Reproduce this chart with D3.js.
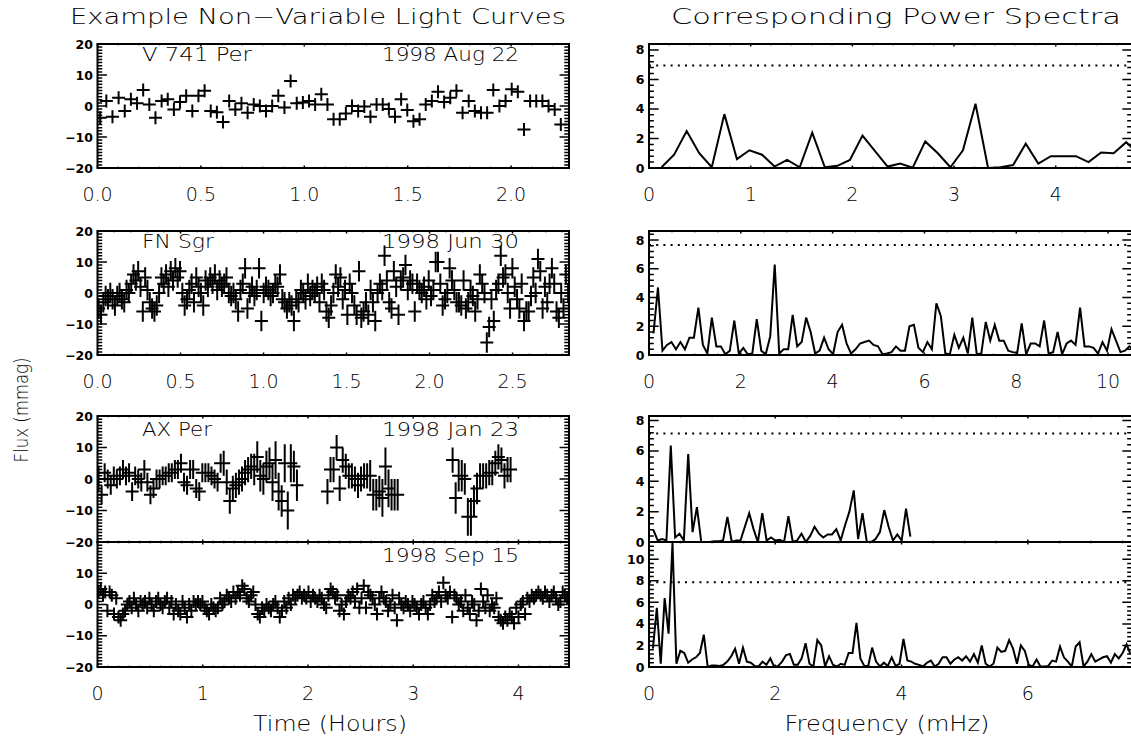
<!DOCTYPE html>
<html>
<head>
<meta charset="utf-8">
<script src="https://cdn.jsdelivr.net/npm/d3@7"></script>
<style>
  body { margin: 0; background: #fff; }
  svg { display: block; }
  text { font-family: "DejaVu Sans", sans-serif; fill: #000; font-weight: 200; }
</style>
</head>
<body>
<script>
// ---- light curves (mmag), evenly sampled from a start time (hours) ----
const v741Start = 0.013, v741Step = 0.0297;
const v741Flux = [-3.8, 1.6, -3.5, 2.7, -1.6, 2.2, 0.9, 5.2, 0.5, -3.8,
  1.6, 2.2, -1.1, 1.3, 3.3, -1.6, 3.3, 4.9, -1.6, -2.0,
  -5.2, 1.6, -1.1, 0.9, -2.2, 0.5, 0.0, -1.6, 0.0, 3.3,
  -0.5, 8.1, 0.9, 1.1, 1.6, 0.5, 3.8, 0.5, -4.3, -4.3,
  -2.4, 0.0, -1.6, -0.2, -3.5, 0.5, 0.5, -1.0, -3.5, 2.2,
  -1.3, -4.9, -4.3, 0.5, 1.6, 4.6, 1.3, 2.7, 4.9, -2.2,
  1.6, -1.6, -2.2, -2.2, 5.2, 0.0, 1.6, 5.4, 4.6, -7.6,
  1.6, 1.6, 1.6, 0.0, -1.1, -6.0];
const v741Err = 1.5;

const fnStart = 0.007, fnStep = 0.014;
const fnFlux = [-5, -7, -3, -1, -2, 0, -2, -4, -1, 0, -2, -3, 1, 0,
  3, 6, 4, 7, 2, -6, 5, 1, -3, -5, -6, -4,
  0, 5, 3, 6, 2, 7, 4, 8, 5, 7, 0, -4, -2,
  1, 3, -3, 5, 2, 0, -4, 4, 2, 5, 3, 6, 1, 4, 2, 3, 5, 0,
  -1, 0, -2, -6, 1, 3, 8, -5, 0, 2, -1, 1, 8,
  -9, 0, 2, 1, -1, 0, 3, 2, 6, -2, -3, -5, -3, -4, -9, -2,
  -3, 1, 0, -2, 3, -1, 1, 0, 2, -3, 3, 1, -6, -8, -4,
  0, 6, 2, 5, -2, 1, -7, 3, 0, -4, -7, 7, -8, -6, -3, -7, 1, -3,
  -9, 0, 3, 1, 12, 4, -3, -5, 7, 2, -7, 4, 5, 9, 1, 4, 3,
  -6, 3, 1, 0, 2, -2, 4, -1, 1, 10, 10, 3, -4, -2, 0, 8, 4, 1, -3,
  -3, -4, 4, -5, -3, 1, -1, -6, -2, 6, 3, 0, -16, -11, -2,
  -9, 1, 3, 12, 5, 6, 0, -5, 8, 2, -2, -5, 3, -9, -6, -6, -1, 5, 0,
  11, 7, -5, 2, -3, 3, 8, 3, -6, -8, 0, -5, 6, 0];
const fnErr = 3.3;

// AX Per has two gaps in coverage (null = no data)
const axStart = 0.01, axStep = 0.029;
const axFlux = [0, -5, 2, 0, -2, 1, 0, 1, 3, 1, 2, -4, 1, 0, -1, 3, -1, -5, -3, 0,
  0, 1, 1, 2, 2, 3, 3, 5, -1, -2, 3, 3, -3, -4, 2, 2, 2, 1, 0, -1,
  5, 5, -1, -7, -3, -2, -1, 0, 2, 3, 4, 3, 7, 1, 0, 4, 5, -1, 6, -4,
  -7, 5, -10, 5, 4, -2,
  null, null, null, null, null, null, null, null, null,
  -4, 3, 3, 10, -3, 6, 4, 1, 1, 0, -2, 0, 1, 1, 1, -5, -5, -4, -6, 4, -3, -5, -5, -5,
  null, null, null, null, null, null, null, null, null, null, null, null, null, null, null, null, null,
  6, -6, 1, 1, 0, -12, -12, -7, -3, 1, 1, 1, 2, 2, 5, 7, 6, 1, 3, 3];
const axErr = [4, 3, 3, 3, 3, 3, 3, 3, 3, 3, 3, 3, 3, 3, 3, 3, 3, 3, 3, 3,
  3, 3, 3, 3, 3, 3, 3, 3, 3, 3, 3, 3, 3, 3, 3, 3, 3, 3, 3, 3,
  3, 4, 4, 4, 4, 4, 4, 4, 4, 4, 4, 5, 5, 5, 5, 5, 5, 6, 6, 6,
  5, 6, 6, 6, 5, 5,
  null, null, null, null, null, null, null, null, null,
  4, 4, 4, 4, 4, 4, 4, 4, 4, 4, 4, 4, 4, 4, 5, 5, 5, 5, 6, 6, 6, 5, 5, 5,
  null, null, null, null, null, null, null, null, null, null, null, null, null, null, null, null, null,
  4, 5, 5, 5, 5, 6, 6, 5, 5, 4, 4, 4, 4, 4, 4, 4, 4, 4, 4, 4];

const sepStart = 0.01, sepStep = 0.021;
const sepFlux = [4, 5, 3, 4, -2, 4, 3, -3, 2,
  -4, -5, -3, -2, 0, 1, -1, 2, 0,
  -2, 1, 0, 1, -1, 2, 0, -2, 1,
  2, 0, -1, 1, 2, -1, 1, -3, 0,
  -2, -3, 1, -1, -4, 0, -2, 1, 0,
  1, 0, 1, -1, -2, -3, 0, -1, -2,
  -1, 2, 0, 1, 3, 2, 1, 4, 2,
  4, 3, 6, 5, 2, 1, 3, 4, 0,
  -3, -4, -1, -2, 0, -1, -2, 0, 1,
  -1, -4, -2, 1, -1, 2, 0, 3, 2,
  3, 4, 2, 3, 2, 4, 1, 3, 2,
  1, 3, 2, 0, -1, 3, 5, 4, 2,
  3, -2, 0, -3, 1, 3, 2, 4, 1,
  5, -1, 2, 6, -1, 4, 3, 2, 0,
  -3, 2, 4, 2, 1, -2, 0, 3, -1,
  -5, 2, 0, -1, 1, 0, -2, 1, 0,
  -1, -3, 0, 1, -1, -3, 0, 3, 1,
  2, 4, 1, 7, 3, 2, 4, -4, 3,
  2, 0, 1, -2, 3, -1, -3, 1, 0,
  -5, -2, 5, 1, -1, 3, -2, 0, -1,
  2, -4, -5, -6, -4, -5, -3, -4, -6,
  -1, -4, 0, 1, -3, 2, 1, 3, 2,
  3, 4, 3, 2, 4, 3, 1, 3, 4,
  2, 0, 1, 4, 3, 2];
const sepErr = 2.0;

// ---- power spectra: first bin at one frequency step (mHz) ----
const v741Df = 0.1235;
const v741Power = [0.05, 0.9, 2.5, 1.0, 0.05, 3.65, 0.6, 1.2, 0.9, 0.1,
  0.55, 0.05, 2.4, 0.05, 0.15, 0.55, 2.2, 1.15, 0.1, 0.3,
  0.02, 1.8, 1.0, 0.05, 1.2, 4.35, 0.0, 0.05, 0.2, 1.65,
  0.3, 0.8, 0.8, 0.8, 0.4, 1.05, 1.0, 1.75, 0.9];
const v741Sig = 6.95;

const fnDf = 0.0978;
const fnPower = [1.5, 4.7, 0.3, 0.7, 0.9, 0.4, 0.9, 0.4, 1.2, 1.2,
  3.3, 0.7, 0.1, 2.6, 0.6, 0.6, 0.05, 0.3, 2.4, 0.1,
  0.5, 0.05, 0.1, 2.5, 0.3, 0.05, 1.3, 6.3, 0.1, 0.4,
  0.4, 2.8, 0.6, 0.9, 2.6, 1.6, 0.1, 0.3, 1.2, 0.4,
  0.05, 1.6, 2.1, 0.8, 0.1, 0.4, 0.8, 0.9, 1.0, 0.7,
  0.6, 0.05, 0.1, 0.2, 0.6, 0.3, 0.3, 2.0, 2.1, 0.5,
  0.2, 0.9, 0.4, 3.6, 2.7, 0.1, 0.05, 1.4, 0.5, 1.2,
  0.1, 2.6, 0.05, 0.1, 2.3, 1.0, 2.1, 1.0, 1.0, 0.3,
  0.2, 0.15, 2.2, 0.05, 0.8, 0.8, 0.6, 2.4, 0.1, 0.2,
  1.6, 0.05, 0.8, 1.0, 0.7, 3.3, 0.6, 0.6, 0.5, 0.1,
  0.9, 0.3, 1.8, 1.0, 0.2, 0.3, 0.6, 0.3];
const fnSig = 7.65;

const axDf = 0.069;
const axPower = [0.8, 0.1, 0.2, 0.1, 6.35, 0.3, 0.55, 0.1, 5.8, 0.65,
  2.3, 0.0, 0.0, 0.0, 0.05, 0.05, 0.1, 1.65, 0.0, 0.1,
  0.1, 1.0, 1.9, 0.85, 0.0, 1.9, 0.1, 0.3, 0.1, 0.15,
  0.0, 1.7, 0.0, 0.1, 0.55, 0.0, 0.4, 1.0, 0.55, 0.3,
  0.5, 0.5, 0.85, 0.1, 1.1, 2.0, 3.4, 0.2, 1.9, 0.0,
  0.0, 0.2, 0.65, 2.1, 1.0, 0.1, 0.5, 0.1, 2.2, 0.35];
const axSig = 7.14;

const sepDf = 0.062;
const sepPower = [1.7, 5.5, 0.3, 6.4, 3.1, 11.5, 0.3, 1.5, 1.3, 0.4,
  0.7, 0.9, 1.3, 3.0, 0.0, 0.15, 0.15, 0.1, 0.2, 0.5,
  1.0, 1.7, 0.3, 1.8, 0.5, 0.4, 0.1, 0.05, 0.5, 0.2,
  0.8, 0.0, 0.1, 0.5, 1.1, 1.2, 0.2, 0.2, 0.8, 2.2,
  0.3, 0.05, 2.5, 2.0, 0.05, 1.0, 0.2, 0.05, 0.3, 0.2,
  1.3, 1.3, 4.1, 0.8, 0.1, 0.1, 1.8, 0.5, 0.05, 0.4,
  0.1, 0.9, 0.1, 0.3, 2.6, 0.6, 0.5, 0.3, 0.2, 0.05,
  0.4, 0.6, 0.05, 0.3, 0.9, 0.9, 0.3, 0.7, 0.9, 0.6,
  1.0, 0.5, 1.2, 0.4, 2.0, 0.3, 0.05, 0.3, 1.8, 1.4,
  1.5, 2.5, 1.7, 0.3, 2.0, 1.5, 0.2, 0.05, 0.7, 0.05,
  0.05, 0.1, 0.6, 0.5, 1.9, 0.9, 0.5, 0.05, 1.9, 2.3,
  0.05, 0.5, 1.2, 0.5, 0.7, 0.9, 1.0, 0.4, 1.2, 0.8,
  1.3, 2.1, 1.2];
const sepSig = 7.86;

// ---- labels ----
const stars = ["V 741 Per", "FN Sgr", "AX Per", ""];
const dates = ["1998 Aug 22", "1998 Jun 30", "1998 Jan 23", "1998 Sep 15"];

const width = 1131, height = 740;
const svg = d3.select("body").append("svg")
    .attr("width", width)
    .attr("height", height);

const leftX = [97.5, 569], rightX = [649, 1132];
const rows = [[44, 168], [231, 355], [416, 542], [542, 667]];
const symHalf = 6.5;
let clipId = 0;

function minus(v) { return v < 0 ? "\u2212" + Math.abs(v) : String(v); }

function makePanel(xr, yr, xDom, yDom) {
    const x = d3.scaleLinear().domain(xDom).range(xr);
    const y = d3.scaleLinear().domain(yDom).range([yr[1], yr[0]]);
    const id = "clip" + (clipId++);
    svg.append("clipPath").attr("id", id).append("rect")
        .attr("x", xr[0]).attr("y", yr[0])
        .attr("width", xr[1] - xr[0]).attr("height", yr[1] - yr[0]);
    const g = svg.append("g");
    const marks = g.append("g").attr("clip-path", `url(#${id})`);
    return { x, y, g, marks };
}

function ticksOf(dom, step, n) {
    const major = d3.range(Math.ceil(dom[0] / step - 1e-9) * step, dom[1] + 1e-9, step);
    const minorStep = step / n;
    const minor = d3.range(Math.ceil(dom[0] / minorStep - 1e-9) * minorStep, dom[1] + 1e-9, minorStep)
        .filter(v => Math.abs(v / step - Math.round(v / step)) > 1e-6);
    return { major, minor };
}

function drawFrame(p, o) {
    const [x0, x1] = p.x.range();
    const [y1, y0] = p.y.range();
    const yLen = 0.02 * (x1 - x0), xLen = 0.02 * (y1 - y0);
    const ax = p.g.append("g").attr("stroke", "#000").attr("fill", "none");
    const xt = ticksOf(p.x.domain(), o.xStep, o.xMinor);
    const yt = ticksOf(p.y.domain(), o.yStep, o.yMinor);
    let d = "";
    xt.major.forEach(v => { const X = p.x(v); d += `M${X},${y1}v${-xLen}M${X},${y0}v${xLen}`; });
    xt.minor.forEach(v => { const X = p.x(v); d += `M${X},${y1}v${-xLen / 2}M${X},${y0}v${xLen / 2}`; });
    yt.major.forEach(v => { const Y = p.y(v); d += `M${x0},${Y}h${yLen}M${x1},${Y}h${-yLen}`; });
    yt.minor.forEach(v => { const Y = p.y(v); d += `M${x0},${Y}h${yLen / 2}M${x1},${Y}h${-yLen / 2}`; });
    ax.append("path").attr("d", d).attr("stroke-width", 1.5);
    ax.append("rect").attr("x", x0).attr("y", y0)
        .attr("width", x1 - x0).attr("height", y1 - y0)
        .attr("stroke-width", 2);

    if (o.xFormat) {
        p.g.append("g").selectAll("text").data(xt.major.filter(v => p.x(v) < width - 4))
            .enter().append("text")
            .attr("x", v => p.x(v)).attr("y", y1 + 33)
            .attr("text-anchor", "middle")
            .style("font-size", "19px")
            .text(o.xFormat);
    }
    p.g.append("g").selectAll("text").data(yt.major.filter(o.yShow || (() => true)))
        .enter().append("text")
        .attr("x", x0 - 4.5).attr("y", v => p.y(v))
        .attr("dy", "0.36em")
        .attr("text-anchor", "end")
        .style("font-size", "12.5px").style("font-weight", "bold")
        .text(minus);
}

function drawCrosses(p, start, step, flux, err) {
    let d = "";
    flux.forEach((v, i) => {
        if (v === null) return;
        const e = Array.isArray(err) ? err[i] : err;
        const cx = p.x(start + i * step), cy = p.y(v);
        const ev = Math.max(symHalf, Math.abs(p.y(v + e) - cy));
        d += `M${cx - symHalf},${cy}H${cx + symHalf}M${cx},${cy - ev}V${cy + ev}`;
    });
    p.marks.append("path").attr("d", d)
        .attr("fill", "none").attr("stroke", "#000").attr("stroke-width", 2);
}

function drawSpectrum(p, df, power, sig) {
    const line = d3.line().x((d, i) => p.x((i + 1) * df)).y(d => p.y(d));
    p.marks.append("path").datum(power).attr("d", line)
        .attr("fill", "none").attr("stroke", "#000")
        .attr("stroke-width", 2).attr("stroke-linejoin", "miter");
    p.marks.append("line")
        .attr("x1", p.x.range()[0]).attr("x2", p.x.range()[1])
        .attr("y1", p.y(sig)).attr("y2", p.y(sig))
        .attr("stroke", "#000").attr("stroke-width", 2)
        .attr("stroke-dasharray", "2,5.2");
}

function label(txt, x, y, size, len, anchor) {
    if (!txt) return;
    svg.append("text").attr("x", x).attr("y", y)
        .attr("text-anchor", anchor || "start")
        .attr("textLength", len).attr("lengthAdjust", "spacingAndGlyphs")
        .style("font-size", size + "px")
        .text(txt);
}

const hrFmt1 = v => d3.format(".1f")(v);
const intFmt = v => d3.format("d")(v);

// ---- left column: light curves ----
const lc = [
    makePanel(leftX, rows[0], [0, 2.28], [-20, 20]),
    makePanel(leftX, rows[1], [0, 2.84], [-20, 20]),
    makePanel(leftX, rows[2], [0, 4.48], [-20, 20]),
    makePanel(leftX, rows[3], [0, 4.48], [-20, 20])
];
drawCrosses(lc[0], v741Start, v741Step, v741Flux, v741Err);
drawCrosses(lc[1], fnStart, fnStep, fnFlux, fnErr);
drawCrosses(lc[2], axStart, axStep, axFlux, axErr);
drawCrosses(lc[3], sepStart, sepStep, sepFlux, sepErr);

drawFrame(lc[0], { xStep: 0.5, xMinor: 5, yStep: 10, yMinor: 10, xFormat: hrFmt1 });
drawFrame(lc[1], { xStep: 0.5, xMinor: 5, yStep: 10, yMinor: 10, xFormat: hrFmt1 });
drawFrame(lc[2], { xStep: 1, xMinor: 10, yStep: 10, yMinor: 10 });
drawFrame(lc[3], { xStep: 1, xMinor: 10, yStep: 10, yMinor: 10, xFormat: intFmt, yShow: v => v < 20 });

// ---- right column: power spectra ----
const ps = [
    makePanel(rightX, rows[0], [0, 4.75], [0, 8.4]),
    makePanel(rightX, rows[1], [0, 10.52], [0, 8.63]),
    makePanel(rightX, rows[2], [0, 7.65], [0, 8.3]),
    makePanel(rightX, rows[3], [0, 7.65], [0, 11.6])
];
drawSpectrum(ps[0], v741Df, v741Power, v741Sig);
drawSpectrum(ps[1], fnDf, fnPower, fnSig);
drawSpectrum(ps[2], axDf, axPower, axSig);
drawSpectrum(ps[3], sepDf, sepPower, sepSig);

drawFrame(ps[0], { xStep: 1, xMinor: 5, yStep: 2, yMinor: 5, xFormat: intFmt });
drawFrame(ps[1], { xStep: 2, xMinor: 4, yStep: 2, yMinor: 5, xFormat: intFmt });
drawFrame(ps[2], { xStep: 2, xMinor: 4, yStep: 2, yMinor: 5 });
drawFrame(ps[3], { xStep: 2, xMinor: 4, yStep: 2, yMinor: 5, xFormat: intFmt });

// ---- in-panel annotations ----
const nameBase = [61, 248, 436, 562];
const nameLen = [110, 72, 70, 0];
stars.forEach((s, i) => label(s, 142, nameBase[i], 20, nameLen[i]));
dates.forEach((s, i) => label(s, 382, nameBase[i], 20, 137));

// ---- titles ----
label("Example Non\u2212Variable Light Curves", 318, 24, 22, 496, "middle");
label("Corresponding Power Spectra", 896, 24, 22, 450, "middle");
label("Time (Hours)", 330, 731, 21, 154, "middle");
label("Frequency (mHz)", 887, 731, 21, 205, "middle");
svg.append("text")
    .attr("transform", "translate(28,410) rotate(-90)")
    .attr("text-anchor", "middle")
    .attr("textLength", 105).attr("lengthAdjust", "spacingAndGlyphs")
    .style("font-size", "20px")
    .text("Flux (mmag)");
</script>
</body>
</html>
